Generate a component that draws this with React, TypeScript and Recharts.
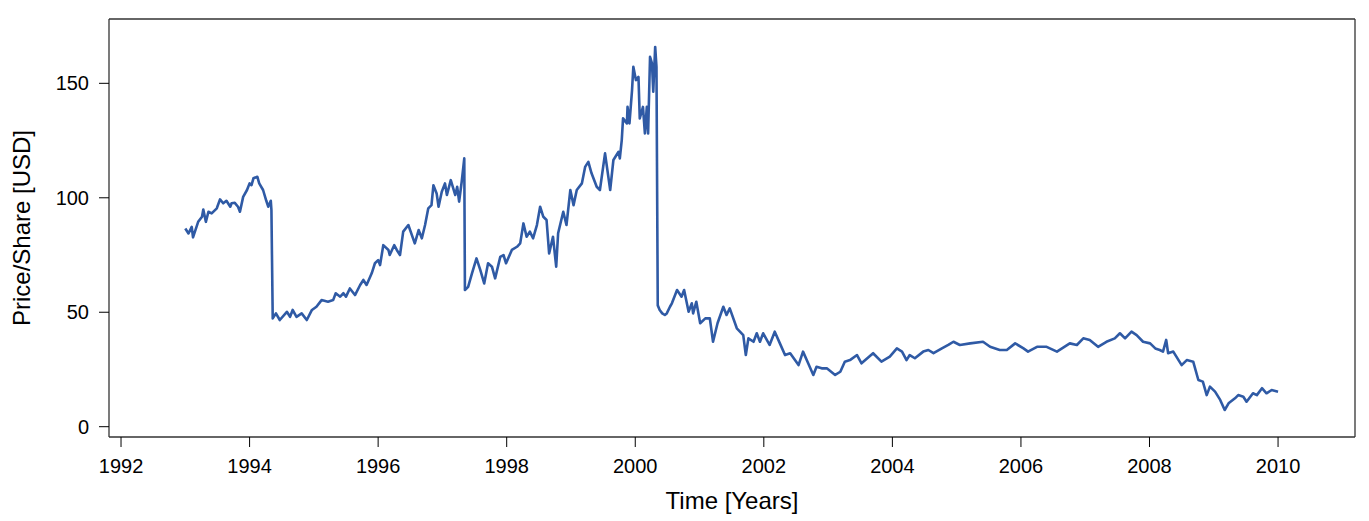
import React from "react";
import { LineChart, Line, XAxis, YAxis, Label } from "recharts";

const years: number[] = [
  1993.0, 1993.05, 1993.1, 1993.12, 1993.2, 1993.26, 1993.28, 1993.32, 1993.36, 1993.41,
  1993.49, 1993.54, 1993.59, 1993.64, 1993.7, 1993.72, 1993.77, 1993.82, 1993.85, 1993.9,
  1993.96, 1994.0, 1994.03, 1994.06, 1994.12, 1994.15, 1994.21, 1994.26, 1994.29, 1994.33,
  1994.34, 1994.36, 1994.41, 1994.47, 1994.58, 1994.63, 1994.67, 1994.73, 1994.81, 1994.89,
  1994.97, 1995.04, 1995.12, 1995.22, 1995.3, 1995.34, 1995.41, 1995.46, 1995.5, 1995.56,
  1995.64, 1995.72, 1995.77, 1995.82, 1995.9, 1995.95, 1996.0, 1996.03, 1996.08, 1996.16,
  1996.18, 1996.25, 1996.29, 1996.34, 1996.39, 1996.47, 1996.57, 1996.63, 1996.68, 1996.73,
  1996.78, 1996.83, 1996.86, 1996.91, 1996.94, 1996.99, 1997.04, 1997.07, 1997.13, 1997.2,
  1997.23, 1997.26, 1997.3, 1997.34, 1997.35, 1997.4, 1997.46, 1997.53, 1997.59, 1997.65,
  1997.71, 1997.77, 1997.82, 1997.9, 1997.95, 1997.99, 1998.08, 1998.16, 1998.21, 1998.26,
  1998.31, 1998.36, 1998.41, 1998.47, 1998.52, 1998.57, 1998.62, 1998.66, 1998.72, 1998.77,
  1998.8, 1998.88, 1998.93, 1998.99, 1999.04, 1999.09, 1999.17, 1999.22, 1999.27, 1999.32,
  1999.4, 1999.45, 1999.53, 1999.61, 1999.66, 1999.74, 1999.76, 1999.79, 1999.81, 1999.87,
  1999.88, 1999.91, 1999.95, 1999.97, 2000.01, 2000.05, 2000.07, 2000.12, 2000.15, 2000.18,
  2000.2, 2000.23, 2000.26, 2000.28, 2000.31, 2000.33, 2000.35, 2000.38, 2000.42, 2000.46,
  2000.49, 2000.54, 2000.57, 2000.65, 2000.72, 2000.76, 2000.83, 2000.88, 2000.9, 2000.95,
  2001.01, 2001.09, 2001.16, 2001.21, 2001.28, 2001.37, 2001.42, 2001.47, 2001.58, 2001.68,
  2001.72, 2001.76, 2001.84, 2001.89, 2001.94, 2001.99, 2002.09, 2002.17, 2002.25, 2002.33,
  2002.41, 2002.54, 2002.61, 2002.69, 2002.77, 2002.82, 2002.9, 2002.98, 2003.11, 2003.19,
  2003.26, 2003.34, 2003.45, 2003.52, 2003.7, 2003.83, 2003.96, 2004.07, 2004.15, 2004.22,
  2004.27, 2004.35, 2004.48, 2004.56, 2004.64, 2004.77, 2004.87, 2004.95, 2005.05, 2005.21,
  2005.41, 2005.52, 2005.67, 2005.78, 2005.91, 2006.04, 2006.11, 2006.25, 2006.4, 2006.56,
  2006.76, 2006.87, 2006.97, 2007.07, 2007.2, 2007.33, 2007.46, 2007.54, 2007.62, 2007.72,
  2007.8, 2007.9, 2008.01, 2008.09, 2008.16, 2008.21, 2008.26, 2008.29, 2008.37, 2008.5,
  2008.58, 2008.68, 2008.76, 2008.83, 2008.89, 2008.94, 2009.02, 2009.1, 2009.17, 2009.23,
  2009.33, 2009.38, 2009.46, 2009.51, 2009.61, 2009.67, 2009.75, 2009.82, 2009.9, 2010.0,
];

const prices: number[] = [
  86.6, 84.4, 87.3, 82.7, 89.5, 91.7, 94.9, 89.5, 93.9, 93.2,
  95.4, 99.3, 97.6, 98.7, 96.1, 97.6, 97.8, 96.1, 93.9, 100.4,
  103.4, 106.3, 105.5, 108.5, 109.2, 106.3, 103.4, 98.7, 96.1, 98.7,
  94.6, 47.3, 49.5, 46.6, 50.2, 48.0, 51.0, 48.0, 49.5, 46.6,
  51.0, 52.4, 55.3, 54.6, 55.3, 58.3, 56.8, 58.3, 56.8, 60.4,
  57.5, 61.9, 64.1, 61.9, 67.0, 71.4, 72.8, 70.6, 79.3, 77.2,
  75.0, 79.3, 77.2, 75.0, 85.2, 88.1, 80.1, 85.9, 82.3, 88.1,
  95.4, 96.8, 105.5, 101.9, 96.1, 102.6, 106.3, 101.2, 107.7, 101.2,
  104.8, 98.3, 107.0, 117.2, 59.7, 61.1, 67.0, 73.5, 68.4, 62.6,
  71.4, 69.9, 64.8, 74.2, 75.0, 71.4, 77.2, 78.6, 80.1, 88.8,
  83.0, 85.2, 82.3, 88.1, 96.1, 91.7, 90.3, 75.7, 83.0, 69.9,
  84.5, 93.9, 88.1, 103.4, 96.8, 103.4, 106.3, 113.5, 115.7, 110.7,
  104.8, 103.4, 119.4, 103.4, 116.5, 120.1, 117.2, 125.2, 134.7, 132.5,
  139.7, 132.5, 147.0, 157.2, 151.4, 152.8, 134.7, 139.7, 128.1, 139.7,
  128.1, 161.6, 158.7, 146.3, 165.9, 157.2, 53.0, 51.0, 49.5, 48.8,
  49.5, 52.4, 53.9, 59.7, 56.8, 59.7, 50.2, 53.9, 49.5, 54.6,
  45.2, 47.3, 47.3, 37.1, 45.2, 52.4, 48.8, 51.7, 43.0, 40.0,
  31.3, 38.6, 37.1, 40.8, 37.1, 40.8, 35.7, 41.5, 36.4, 31.3,
  32.1, 26.9, 32.8, 27.7, 22.6, 26.2, 25.5, 25.5, 22.6, 24.0,
  28.4, 29.1, 31.3, 27.7, 32.1, 28.4, 30.6, 34.2, 32.8, 29.1,
  31.3, 29.9, 32.8, 33.5, 32.1, 34.2, 35.7, 37.1, 35.7, 36.4,
  37.1, 34.9, 33.5, 33.5, 36.4, 34.2, 32.8, 34.9, 34.9, 32.8,
  36.4, 35.7, 38.6, 37.9, 34.9, 37.1, 38.6, 40.8, 38.6, 41.5,
  40.0, 37.1, 36.4, 34.2, 33.5, 32.8, 37.9, 32.1, 32.8, 26.9,
  29.1, 28.4, 20.4, 19.7, 13.8, 17.5, 15.3, 11.7, 7.3, 10.2,
  12.4, 13.8, 13.1, 10.9, 14.6, 13.8, 16.8, 14.6, 16.0, 15.3,
];

const xTicks: number[] = [1992, 1994, 1996, 1998, 2000, 2002, 2004, 2006, 2008, 2010];
const yTicks: number[] = [0, 50, 100, 150];

const data = years.map((t, i) => ({ t, v: prices[i] }));

const FONT = "'Liberation Sans', Arial, Helvetica, sans-serif";
const AXIS = "#333333";

export default function App() {
  return (
    <div style={{ position: "absolute", left: 0, top: 0, width: 1369, height: 521, background: "#fff" }}>
      <LineChart
        width={1369}
        height={521}
        data={data}
        margin={{ top: 0, right: 0, bottom: 0, left: 0 }}
        style={{ fontFamily: FONT }}
      >
        <XAxis
          xAxisId="bottom"
          dataKey="t"
          type="number"
          orientation="bottom"
          domain={[1991.813, 2011.197]}
          allowDataOverflow
          ticks={xTicks}
          interval={0}
          height={84}
          tickSize={10}
          tickMargin={12}
          axisLine={{ stroke: AXIS, strokeWidth: 1.3 }}
          tickLine={{ stroke: "#000", strokeWidth: 1 }}
          tick={{ fill: "#000", fontSize: 20, fontFamily: FONT }}
        >
          <Label
            content={({ viewBox }: any) => (
              <text
                x={viewBox.x + viewBox.width / 2}
                y={508.5}
                textAnchor="middle"
                fontSize={24}
                fontFamily={FONT}
                fill="#000"
              >
                Time [Years]
              </text>
            )}
          />
        </XAxis>
        <XAxis
          xAxisId="top"
          dataKey="t"
          type="number"
          orientation="top"
          domain={[1991.813, 2011.197]}
          allowDataOverflow
          ticks={xTicks}
          interval={0}
          height={19}
          tickSize={10}
          axisLine={{ stroke: AXIS, strokeWidth: 1.3 }}
          tickLine={{ stroke: "#000", strokeWidth: 1 }}
          tick={false}
        />
        <YAxis
          yAxisId="left"
          orientation="left"
          type="number"
          domain={[-4.5, 178.1]}
          allowDataOverflow
          ticks={yTicks}
          interval={0}
          width={109}
          tickSize={10}
          tickMargin={10}
          axisLine={{ stroke: AXIS, strokeWidth: 1.3 }}
          tickLine={{ stroke: "#000", strokeWidth: 1 }}
          tick={{ fill: "#000", fontSize: 20, fontFamily: FONT }}
        >
          <Label
            content={({ viewBox }: any) => {
              const cx = 21.7;
              const cy = viewBox.y + viewBox.height / 2;
              return (
                <text
                  x={cx}
                  y={cy}
                  transform={`rotate(-90 ${cx} ${cy})`}
                  textAnchor="middle"
                  dominantBaseline="central"
                  fontSize={24}
                  fontFamily={FONT}
                  fill="#000"
                >
                  Price/Share [USD]
                </text>
              );
            }}
          />
        </YAxis>
        <YAxis
          yAxisId="right"
          orientation="right"
          type="number"
          domain={[-4.5, 178.1]}
          allowDataOverflow
          ticks={yTicks}
          interval={0}
          width={14}
          tickSize={10}
          axisLine={{ stroke: AXIS, strokeWidth: 1.3 }}
          tickLine={{ stroke: "#000", strokeWidth: 1 }}
          tick={false}
        />
        <Line
          xAxisId="bottom"
          yAxisId="left"
          type="linear"
          dataKey="v"
          stroke="#2f5aa5"
          strokeWidth={2.6}
          strokeLinejoin="round"
          dot={false}
          isAnimationActive={false}
        />
      </LineChart>
    </div>
  );
}
